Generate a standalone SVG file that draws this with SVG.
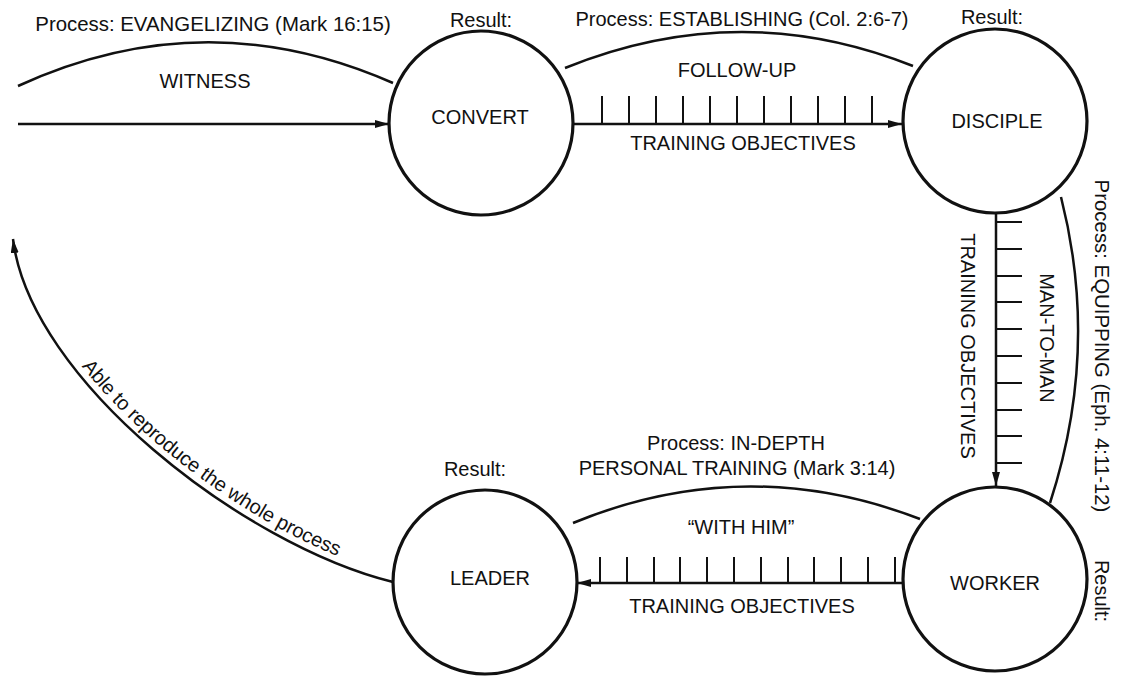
<svg xmlns="http://www.w3.org/2000/svg" width="1121" height="677" viewBox="0 0 1121 677">
<style>
text{font-family:"Liberation Sans",Arial,Helvetica,sans-serif;font-size:20px;fill:#111;text-anchor:middle}
.node{fill:#fff;stroke:#111;stroke-width:3.2}
.arc{fill:none;stroke:#111;stroke-width:2.5}
.ln{fill:none;stroke:#111;stroke-width:2.5}
.tick{stroke:#111;stroke-width:2}
</style>
<defs>
<marker id="arr" viewBox="0 0 14 8" refX="14" refY="4" markerWidth="14" markerHeight="8" orient="auto" markerUnits="userSpaceOnUse">
<path d="M0,0 L14,4 L0,8 z" fill="#111"/>
</marker>
<path id="retpath" d="M13,239 C30,380 243,545 393,582"/>
</defs>
<rect width="1121" height="677" fill="#fff"/>

<g id="connectors">
<path class="arc" d="M18,86 Q205,0 393,83"/>
<line class="ln" x1="18" y1="124" x2="389" y2="124" marker-end="url(#arr)"/>
<path class="arc" d="M565,68 Q740,-3 913,66"/>
<line class="ln" x1="573" y1="124" x2="902" y2="124" marker-end="url(#arr)"/>
<g class="tick">
<line x1="602" y1="96" x2="602" y2="124"/><line x1="629" y1="96" x2="629" y2="124"/>
<line x1="656" y1="96" x2="656" y2="124"/><line x1="683" y1="96" x2="683" y2="124"/>
<line x1="710" y1="96" x2="710" y2="124"/><line x1="737" y1="96" x2="737" y2="124"/>
<line x1="764" y1="96" x2="764" y2="124"/><line x1="791" y1="96" x2="791" y2="124"/>
<line x1="818" y1="96" x2="818" y2="124"/><line x1="845" y1="96" x2="845" y2="124"/>
<line x1="872" y1="96" x2="872" y2="124"/>
</g>
<path class="arc" d="M1061,197 Q1100,350 1050,503"/>
<line class="ln" x1="996" y1="214" x2="996" y2="486" marker-end="url(#arr)"/>
<g class="tick">
<line x1="996" y1="222" x2="1022" y2="222"/><line x1="996" y1="249" x2="1022" y2="249"/>
<line x1="996" y1="276" x2="1022" y2="276"/><line x1="996" y1="302" x2="1022" y2="302"/>
<line x1="996" y1="329" x2="1022" y2="329"/><line x1="996" y1="356" x2="1022" y2="356"/>
<line x1="996" y1="383" x2="1022" y2="383"/><line x1="996" y1="410" x2="1022" y2="410"/>
<line x1="996" y1="436" x2="1022" y2="436"/><line x1="996" y1="463" x2="1022" y2="463"/>
</g>
<path class="arc" d="M573,523 Q745,452 920,519"/>
<line class="ln" x1="903" y1="583" x2="577" y2="583" marker-end="url(#arr)"/>
<g class="tick">
<line x1="600" y1="557" x2="600" y2="583"/><line x1="627" y1="557" x2="627" y2="583"/>
<line x1="654" y1="557" x2="654" y2="583"/><line x1="680" y1="557" x2="680" y2="583"/>
<line x1="707" y1="557" x2="707" y2="583"/><line x1="734" y1="557" x2="734" y2="583"/>
<line x1="761" y1="557" x2="761" y2="583"/><line x1="788" y1="557" x2="788" y2="583"/>
<line x1="814" y1="557" x2="814" y2="583"/><line x1="841" y1="557" x2="841" y2="583"/>
<line x1="868" y1="557" x2="868" y2="583"/><line x1="895" y1="557" x2="895" y2="583"/>
</g>
<path class="ln" stroke-width="2" d="M393,582 C243,545 30,380 13,239" marker-end="url(#arr)"/>
</g>

<g id="labels">
<text x="213" y="31" style="font-size:20.4px">Process: EVANGELIZING (Mark 16:15)</text>
<text x="205" y="88">WITNESS</text>
<text x="742" y="26">Process: ESTABLISHING (Col. 2:6-7)</text>
<text x="737" y="77">FOLLOW-UP</text>
<text x="743" y="150">TRAINING OBJECTIVES</text>
<text transform="translate(1095,346) rotate(90)" style="font-size:20.4px">Process:  EQUIPPING (Eph. 4:11-12)</text>
<text transform="translate(1040,338) rotate(90)">MAN-TO-MAN</text>
<text transform="translate(961,346) rotate(90)">TRAINING OBJECTIVES</text>
<text x="736" y="450">Process: IN-DEPTH</text>
<text x="737" y="475">PERSONAL TRAINING (Mark 3:14)</text>
<text x="741" y="534">“WITH HIM”</text>
<text x="742" y="613">TRAINING OBJECTIVES</text>
<text style="text-anchor:start;font-size:20px" dy="-7"><textPath href="#retpath" startOffset="148">Able to reproduce the whole process</textPath></text>
</g>

<g id="convert">
<circle class="node" cx="481" cy="123" r="92"/>
<text x="480" y="124">CONVERT</text>
<text x="481" y="27">Result:</text>
</g>
<g id="disciple">
<circle class="node" cx="995" cy="121" r="92"/>
<text x="997" y="128">DISCIPLE</text>
<text x="992" y="24">Result:</text>
</g>
<g id="worker">
<circle class="node" cx="995" cy="579" r="92"/>
<text x="995" y="590">WORKER</text>
<text transform="translate(1095,591) rotate(90)">Result:</text>
</g>
<g id="leader">
<circle class="node" cx="485" cy="582" r="92"/>
<text x="490" y="585">LEADER</text>
<text x="475" y="476">Result:</text>
</g>
</svg>
